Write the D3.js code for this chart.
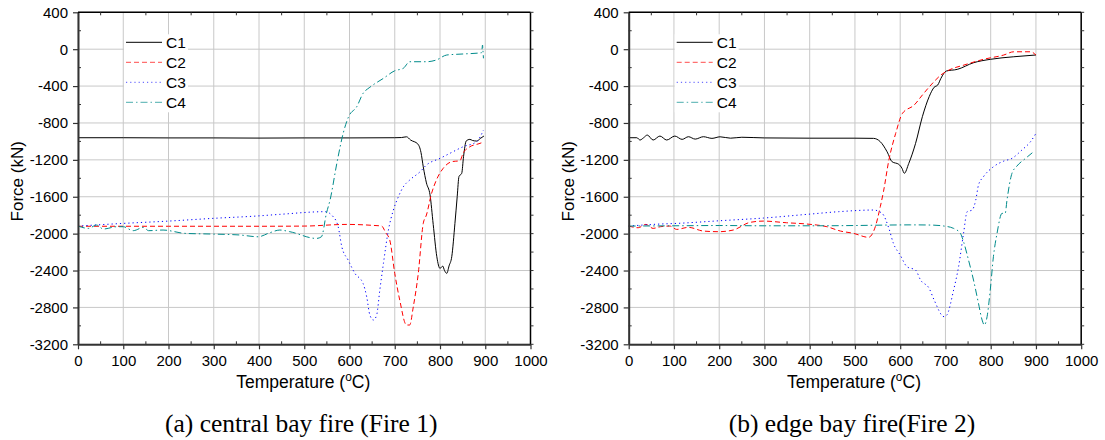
<!DOCTYPE html>
<html>
<head>
<meta charset="utf-8">
<script src="https://cdn.jsdelivr.net/npm/d3@7"></script>
<style>
  body { margin: 0; background: #fff; }
  svg { display: block; }
</style>
</head>
<body>
<svg id="chart" width="1105" height="440"></svg>
<script>

// data: [temperature (°C), force (kN)]
var fire1C1 = [[0,-960],[100,-960],[200,-962],[300,-962],[400,-964],[500,-962],[600,-962],[700,-960],[715,-958],[726,-950],[735,-985],[751,-1028],[758,-1120],[763,-1275],[770,-1450],[778,-1580],[785,-1900],[793,-2251],[800,-2377],[806,-2352],[810,-2400],[815,-2431],[820,-2350],[826,-2250],[833,-1889],[838,-1600],[842,-1380],[848,-1346],[852,-1166],[858,-995],[866,-978],[872,-990],[881,-996],[890,-965],[897,-942]];
var fire1C2 = [[0,-1920],[100,-1920],[200,-1920],[300,-1920],[400,-1920],[500,-1918],[594,-1900],[650,-1910],[671,-1918],[680,-1990],[689,-2070],[700,-2431],[711,-2720],[726,-2991],[733,-2991],[741,-2793],[752,-2431],[763,-1889],[770,-1798],[781,-1570],[792,-1419],[807,-1292],[826,-1220],[844,-1209],[851,-1129],[866,-1058],[884,-1028],[895,-1010]];
var fire1C3 = [[0,-1918],[100,-1889],[200,-1864],[300,-1834],[395,-1809],[446,-1791],[546,-1762],[564,-1817],[575,-1925],[583,-2142],[597,-2287],[612,-2431],[630,-2540],[638,-2685],[645,-2883],[653,-2937],[660,-2883],[667,-2612],[675,-2322],[686,-1961],[697,-1744],[708,-1600],[719,-1492],[733,-1419],[756,-1329],[770,-1256],[800,-1184],[822,-1129],[851,-1058],[881,-1003],[896,-877]];
var fire1C4 = [[0,-1918],[23,-1943],[41,-1907],[56,-1950],[86,-1925],[100,-1925],[122,-1968],[145,-1932],[156,-1968],[188,-1961],[236,-1997],[300,-2005],[358,-2015],[398,-2034],[424,-1990],[446,-1961],[468,-1979],[527,-2052],[538,-2034],[549,-1780],[557,-1636],[572,-1238],[586,-913],[598,-732],[616,-624],[630,-479],[645,-413],[675,-316],[700,-234],[719,-207],[733,-136],[770,-136],[792,-117],[815,-63],[851,-52],[892,-38],[894,45],[895,-20],[896,-99]];

var fire2C1 = [[0,-960],[18,-960],[25,-985],[33,-960],[41,-931],[54,-985],[69,-942],[84,-985],[102,-942],[118,-978],[132,-949],[147,-975],[165,-949],[184,-967],[202,-950],[225,-965],[250,-955],[300,-962],[400,-965],[500,-965],[541,-967],[556,-1003],[571,-1112],[582,-1220],[597,-1249],[604,-1292],[609,-1346],[619,-1238],[634,-1021],[649,-732],[664,-515],[675,-413],[683,-388],[690,-316],[702,-237],[726,-219],[762,-147],[799,-110],[851,-82],[900,-63]];
var fire2C2 = [[0,-1918],[21,-1936],[38,-1900],[54,-1943],[70,-1925],[91,-1918],[106,-1954],[132,-1932],[165,-1972],[199,-1979],[231,-1961],[268,-1878],[298,-1864],[349,-1882],[394,-1896],[438,-1925],[468,-1972],[497,-1997],[530,-2040],[545,-1925],[556,-1708],[563,-1545],[575,-1202],[590,-913],[605,-696],[631,-605],[649,-497],[668,-388],[690,-280],[708,-226],[741,-172],[784,-110],[829,-63],[851,-28],[888,-28],[900,-63]];
var fire2C3 = [[0,-1918],[69,-1896],[106,-1889],[202,-1860],[298,-1831],[401,-1788],[464,-1762],[541,-1744],[560,-1780],[575,-1943],[585,-2106],[600,-2232],[615,-2359],[634,-2395],[645,-2503],[664,-2594],[675,-2720],[697,-2901],[703,-2883],[718,-2612],[729,-2359],[740,-1997],[748,-1762],[759,-1744],[767,-1636],[773,-1473],[784,-1383],[806,-1275],[829,-1213],[847,-1184],[869,-1093],[888,-1003],[900,-913]];
var fire2C4 = [[0,-1918],[100,-1915],[200,-1912],[300,-1915],[400,-1915],[500,-1912],[571,-1907],[623,-1905],[668,-1907],[697,-1918],[718,-1943],[733,-1997],[740,-2088],[751,-2287],[762,-2503],[773,-2756],[781,-2937],[786,-2991],[792,-2901],[799,-2612],[806,-2250],[814,-1997],[825,-1780],[832,-1780],[836,-1636],[847,-1346],[858,-1267],[877,-1184],[892,-1123]];

var seriesNames = ['C1', 'C2', 'C3', 'C4'];
var xTicks = [0, 100, 200, 300, 400, 500, 600, 700, 800, 900, 1000];
var yTicks = [400, 0, -400, -800, -1200, -1600, -2000, -2400, -2800, -3200];
var captions = ['(a) central bay fire (Fire 1)', '(b) edge bay fire(Fire 2)'];

// line styles
var styles = [
    {color: '#000000', dash: null},
    {color: '#ff0000', dash: '5,3'},
    {color: '#0000ff', dash: '1.2,3'},
    {color: '#008b8b', dash: '7,3,1.5,3'}
];

var sans = "'Liberation Sans', Arial, sans-serif";
var serif = "'Liberation Serif', 'Times New Roman', serif";

var svg = d3.select('#chart');
var plotW = 452.5, plotH = 332;

var x = d3.scaleLinear().domain([0, 1000]).range([0, plotW]);
var y = d3.scaleLinear().domain([-3200, 400]).range([plotH, 0]);

var line = d3.line()
    .x(function (d) { return x(d[0]); })
    .y(function (d) { return y(d[1]); })
    .curve(d3.curveMonotoneX);

function plain(d) { return String(d); }

function drawPanel(left, data, caption) {

    var g = svg.append('g').attr('transform', 'translate(' + left + ',12.3)');

    // grid
    g.append('g').selectAll('line').data(xTicks).enter().append('line')
        .attr('x1', x).attr('x2', x).attr('y1', 0).attr('y2', plotH)
        .attr('stroke', '#c8c8c8').attr('stroke-width', 1);
    g.append('g').selectAll('line').data(yTicks).enter().append('line')
        .attr('y1', y).attr('y2', y).attr('x1', 0).attr('x2', plotW)
        .attr('stroke', '#c8c8c8').attr('stroke-width', 1);

    // curves
    data.forEach(function (d, i) {
        g.append('path')
            .attr('d', line(d))
            .attr('fill', 'none')
            .attr('stroke', styles[i].color)
            .attr('stroke-width', 1)
            .attr('stroke-dasharray', styles[i].dash);
    });

    // legend (white box behind)
    var lg = g.append('g').attr('transform', 'translate(48,0)');
    lg.append('rect').attr('x', -2).attr('y', 22).attr('width', 64).attr('height', 78).attr('fill', '#fff');
    seriesNames.forEach(function (name, i) {
        var yy = 30 + i * 20;
        lg.append('line')
            .attr('x1', 0).attr('x2', 36).attr('y1', yy).attr('y2', yy)
            .attr('stroke', styles[i].color)
            .attr('stroke-width', 1)
            .attr('stroke-opacity', i === 0 ? 1 : 0.7)
            .attr('stroke-dasharray', styles[i].dash);
        lg.append('text')
            .attr('x', 40).attr('y', yy + 5.5)
            .attr('font-family', sans)
            .attr('font-size', 15.5)
            .text(name);
    });

    // axes
    var bottom = g.append('g').attr('transform', 'translate(0,' + plotH + ')')
        .call(d3.axisBottom(x).tickValues(xTicks).tickFormat(plain).tickSize(5).tickSizeOuter(0).tickPadding(6));
    var leftAx = g.append('g')
        .call(d3.axisLeft(y).tickValues(yTicks).tickFormat(plain).tickSize(5).tickSizeOuter(0).tickPadding(5));
    [bottom, leftAx].forEach(function (a) {
        a.select('.domain').attr('stroke', '#333').attr('stroke-width', 2);
        a.selectAll('.tick line').attr('stroke', '#333').attr('stroke-width', 1.2);
        a.selectAll('.tick text')
            .attr('font-family', sans)
            .attr('font-size', 15).attr('fill', '#000');
    });

    // top and right frame
    g.append('line').attr('x1', 0).attr('x2', plotW).attr('y1', 0).attr('y2', 0)
        .attr('stroke', '#000').attr('stroke-width', 1.5);
    g.append('line').attr('x1', plotW).attr('x2', plotW).attr('y1', 0).attr('y2', plotH)
        .attr('stroke', '#000').attr('stroke-width', 1.5);

    // minor ticks inward
    var minorX = d3.range(50, 1000, 100);
    var minorY = d3.range(-3000, 400, 400);
    g.append('g').selectAll('line').data(minorX).enter().append('line')
        .attr('x1', x).attr('x2', x).attr('y1', plotH).attr('y2', plotH - 3)
        .attr('stroke', '#333');
    g.append('g').selectAll('line').data(minorX).enter().append('line')
        .attr('x1', x).attr('x2', x).attr('y1', 0).attr('y2', 3)
        .attr('stroke', '#333');
    g.append('g').selectAll('line').data(minorY).enter().append('line')
        .attr('y1', y).attr('y2', y).attr('x1', 0).attr('x2', 3)
        .attr('stroke', '#333');
    g.append('g').selectAll('line').data(minorY.concat(yTicks)).enter().append('line')
        .attr('y1', y).attr('y2', y).attr('x1', plotW).attr('x2', plotW + 3)
        .attr('stroke', '#333');

    // axis titles
    var xt = g.append('text')
        .attr('x', plotW / 2 - 1).attr('y', plotH + 44)
        .attr('text-anchor', 'middle')
        .attr('font-family', sans)
        .attr('font-size', 17.5);
    xt.append('tspan').text('Temperature (');
    xt.append('tspan').attr('font-size', 12).attr('dy', -7).text('o');
    xt.append('tspan').attr('dy', 7).text('C)');

    g.append('text')
        .attr('transform', 'translate(-55,' + (plotH / 2 + 3) + ') rotate(-90)')
        .attr('text-anchor', 'middle')
        .attr('font-family', sans)
        .attr('font-size', 17)
        .text('Force (kN)');

    // caption
    g.append('text')
        .attr('x', plotW / 2 - 3).attr('y', plotH + 87.5)
        .attr('text-anchor', 'middle')
        .attr('font-family', serif)
        .attr('font-size', 25.5)
        .text(caption);
}

drawPanel(78, [fire1C1, fire1C2, fire1C3, fire1C4], captions[0]);
drawPanel(628.7, [fire2C1, fire2C2, fire2C3, fire2C4], captions[1]);

</script>
</body>
</html>
